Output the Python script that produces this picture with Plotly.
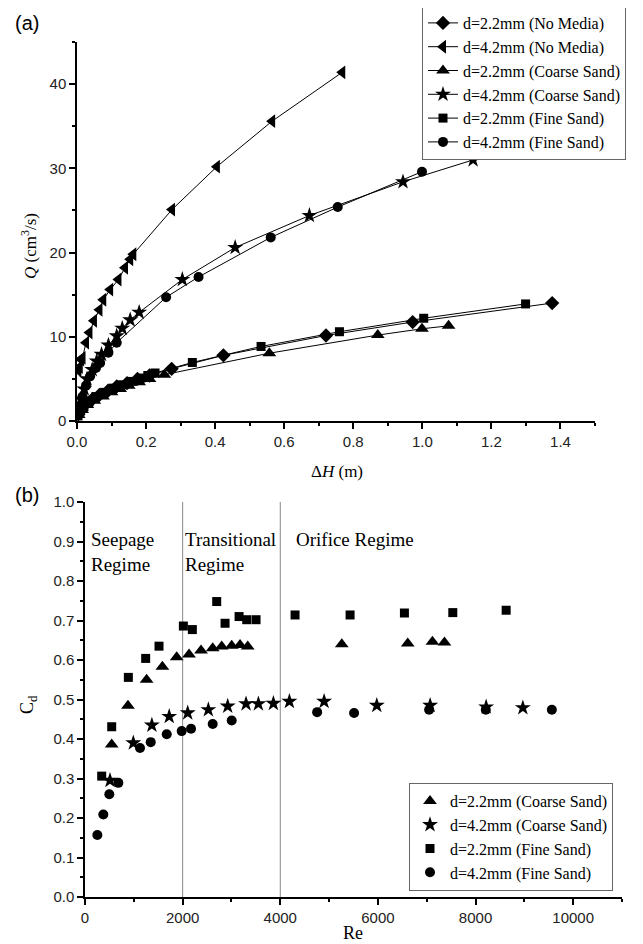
import plotly.graph_objects as go

# The page body has an 8px margin, so the figure is drawn 8px in from the top-left.
OFF = 8
W, H = 643 - OFF, 944 - OFF

# ---------------- Panel (a) data: Q vs dH ----------------
dH_22_nomedia = [0.004, 0.012, 0.025, 0.045, 0.065, 0.09, 0.115, 0.145, 0.175, 0.21, 0.274, 0.424, 0.721, 0.972, 1.376]
Q_22_nomedia = [0.8, 1.4, 2.0, 2.6, 3.1, 3.6, 4.1, 4.5, 5.0, 5.4, 6.2, 7.8, 10.15, 11.75, 14.0]

dH_42_nomedia = [0.004, 0.008, 0.012, 0.016, 0.026, 0.036, 0.049, 0.065, 0.076, 0.096, 0.12, 0.139, 0.154, 0.163, 0.275, 0.405, 0.565, 0.768]
Q_42_nomedia = [6.0, 6.4, 7.3, 7.5, 9.3, 10.5, 11.9, 13.2, 14.4, 15.6, 16.8, 18.2, 19.2, 19.8, 25.1, 30.2, 35.6, 41.4]

dH_22_coarse = [0.005, 0.015, 0.03, 0.05, 0.075, 0.1, 0.125, 0.15, 0.18, 0.21, 0.253, 0.557, 0.871, 0.999, 1.076]
Q_22_coarse = [0.7, 1.3, 1.9, 2.4, 2.9, 3.4, 3.8, 4.2, 4.6, 5.0, 5.5, 8.05, 10.2, 10.95, 11.3]

dH_42_coarse = [0.006, 0.011, 0.021, 0.029, 0.044, 0.057, 0.071, 0.091, 0.115, 0.131, 0.154, 0.18, 0.305, 0.458, 0.673, 0.944, 1.147]
Q_42_coarse = [1.4, 2.6, 3.8, 5.0, 6.1, 7.1, 7.9, 9.0, 10.1, 11.0, 12.0, 12.9, 16.8, 20.6, 24.4, 28.4, 31.0]

dH_22_fine = [0.003, 0.01, 0.02, 0.035, 0.055, 0.08, 0.105, 0.13, 0.16, 0.185, 0.205, 0.226, 0.334, 0.533, 0.76, 1.004, 1.299]
Q_22_fine = [0.6, 1.2, 1.7, 2.3, 2.9, 3.4, 3.9, 4.3, 4.7, 5.1, 5.4, 5.7, 6.95, 8.85, 10.6, 12.2, 13.9]

dH_42_fine = [0.006, 0.016, 0.026, 0.038, 0.055, 0.067, 0.091, 0.115, 0.258, 0.352, 0.561, 0.755, 0.999]
Q_42_fine = [1.7, 2.9, 4.2, 5.3, 6.3, 6.9, 8.1, 9.3, 14.7, 17.1, 21.8, 25.4, 29.6]

# ---------------- Panel (b) data: Cd vs Re ----------------
Re_22_coarse = [547, 880, 1262, 1585, 1878, 2131, 2377, 2616, 2800, 3005, 3176, 3333, 5260, 6611, 7117, 7363]
Cd_22_coarse = [0.386, 0.484, 0.550, 0.583, 0.607, 0.614, 0.624, 0.630, 0.634, 0.636, 0.638, 0.634, 0.640, 0.642, 0.646, 0.644]

Re_42_coarse = [512, 990, 1370, 1725, 2104, 2527, 2923, 3299, 3552, 3859, 4187, 4898, 5977, 7070, 8217, 8969]
Cd_42_coarse = [0.295, 0.390, 0.435, 0.457, 0.466, 0.474, 0.483, 0.489, 0.489, 0.490, 0.495, 0.495, 0.485, 0.485, 0.481, 0.479]

Re_22_fine = [342, 547, 888, 1243, 1516, 2015, 2199, 2698, 2869, 3156, 3313, 3504, 4303, 5430, 6543, 7534, 8627]
Cd_22_fine = [0.306, 0.431, 0.556, 0.604, 0.635, 0.686, 0.677, 0.748, 0.693, 0.710, 0.702, 0.702, 0.714, 0.714, 0.719, 0.720, 0.726]

Re_42_fine = [253, 375, 498, 683, 1127, 1346, 1674, 1981, 2172, 2616, 3005, 4755, 5512, 7049, 8210, 9563]
Cd_42_fine = [0.157, 0.209, 0.260, 0.289, 0.377, 0.392, 0.412, 0.420, 0.426, 0.438, 0.447, 0.468, 0.466, 0.474, 0.474, 0.474]

regime_bounds = [2000, 4000]

SERIF = "Liberation Serif, Times New Roman, serif"
SANS = "Liberation Sans, Arial, sans-serif"

fig = go.Figure()

top_series = [
    ("d=2.2mm (No Media)", dH_22_nomedia, Q_22_nomedia, "diamond", 11),
    ("d=4.2mm (No Media)", dH_42_nomedia, Q_42_nomedia, "triangle-left", 12),
    ("d=2.2mm (Coarse Sand)", dH_22_coarse, Q_22_coarse, "triangle-up", 12),
    ("d=4.2mm (Coarse Sand)", dH_42_coarse, Q_42_coarse, "star", 12),
    ("d=2.2mm (Fine Sand)", dH_22_fine, Q_22_fine, "square", 9),
    ("d=4.2mm (Fine Sand)", dH_42_fine, Q_42_fine, "circle", 10),
]
for name, xs, ys, sym, sz in top_series:
    fig.add_trace(go.Scatter(
        x=xs, y=ys, name=name, mode="lines+markers",
        line=dict(color="black", width=1),
        marker=dict(symbol=sym, size=sz, color="black"),
        xaxis="x", yaxis="y", legend="legend",
    ))

bottom_series = [
    ("d=2.2mm (Coarse Sand)", Re_22_coarse, Cd_22_coarse, "triangle-up", 12),
    ("d=4.2mm (Coarse Sand)", Re_42_coarse, Cd_42_coarse, "star", 12),
    ("d=2.2mm (Fine Sand)", Re_22_fine, Cd_22_fine, "square", 9),
    ("d=4.2mm (Fine Sand)", Re_42_fine, Cd_42_fine, "circle", 10),
]
for name, xs, ys, sym, sz in bottom_series:
    fig.add_trace(go.Scatter(
        x=xs, y=ys, name=name, mode="markers",
        marker=dict(symbol=sym, size=sz, color="black"),
        xaxis="x2", yaxis="y2", legend="legend2",
    ))

for b in regime_bounds:
    fig.add_shape(type="line", xref="x2", yref="y2", x0=b, x1=b, y0=0, y1=1.0,
                  line=dict(color="#888888", width=1), layer="below")

def px_x(p):
    return (p - OFF) / W

def px_y(p):
    return 1 - (p - OFF) / H

axis_common = dict(
    showline=True, linecolor="black", linewidth=1.5, mirror=False,
    ticks="outside", ticklen=6, tickwidth=1.5, tickcolor="black",
    showgrid=False, zeroline=False, automargin=False,
    tickfont=dict(family=SANS, size=15, color="#222"),
)
minor_common = dict(ticks="outside", ticklen=3, tickwidth=1.5, tickcolor="black", showgrid=False)

fig.update_layout(
    template="none",
    width=W, height=H,
    margin=dict(l=0, r=0, t=0, b=0, autoexpand=False),
    paper_bgcolor="white", plot_bgcolor="white",
    showlegend=True,
    xaxis=dict(domain=[px_x(77), px_x(595)], range=[0, 1.5], dtick=0.2, tickformat=".1f",
               anchor="y", minor=dict(dtick=0.1, **minor_common), **axis_common),
    yaxis=dict(domain=[px_y(421), px_y(42)], range=[0, 45], dtick=10, anchor="x",
               minor=dict(dtick=5, **minor_common), **axis_common),
    xaxis2=dict(domain=[px_x(85), px_x(622)], range=[0, 11000], dtick=2000, tickformat="d",
                anchor="y2", minor=dict(dtick=1000, **minor_common), **axis_common),
    yaxis2=dict(domain=[px_y(897), px_y(502)], range=[0, 1.0], dtick=0.1, tickformat=".1f", anchor="x2",
                minor=dict(dtick=0.05, **minor_common), **axis_common),
    legend=dict(x=px_x(422), y=px_y(5), xanchor="left", yanchor="top",
                bordercolor="#666", borderwidth=1, bgcolor="white",
                font=dict(family=SERIF, size=16, color="black"),
                tracegroupgap=0, itemwidth=30),
    legend2=dict(x=px_x(409), y=px_y(783), xanchor="left", yanchor="top",
                 bordercolor="#666", borderwidth=1, bgcolor="white",
                 font=dict(family=SERIF, size=16, color="black"),
                 tracegroupgap=0, itemwidth=30),
)

ann = [
    dict(text="(a)", x=px_x(13), y=px_y(23), xanchor="left", yanchor="middle",
         font=dict(family=SANS, size=20, color="black")),
    dict(text="(b)", x=px_x(13), y=px_y(495), xanchor="left", yanchor="middle",
         font=dict(family=SANS, size=20, color="black")),
    dict(text="Δ<i>H</i> (m)", x=px_x(337), y=px_y(471), xanchor="center", yanchor="middle",
         font=dict(family=SERIF, size=17, color="black")),
    dict(text="<i>Q</i> (cm<sup>3</sup>/s)", x=px_x(29), y=px_y(246), xanchor="center", yanchor="middle",
         textangle=-90, font=dict(family=SERIF, size=17, color="black")),
    dict(text="Re", x=px_x(353), y=px_y(933), xanchor="center", yanchor="middle",
         font=dict(family=SERIF, size=18, color="black")),
    dict(text="C<sub>d</sub>", x=px_x(28), y=px_y(705), xanchor="center", yanchor="middle",
         textangle=-90, font=dict(family=SERIF, size=18, color="black")),
    dict(text="Seepage<br>Regime", x=px_x(89), y=px_y(527), xanchor="left", yanchor="top",
         align="left", font=dict(family=SERIF, size=19, color="black")),
    dict(text="Transitional<br>Regime", x=px_x(183), y=px_y(527), xanchor="left", yanchor="top",
         align="left", font=dict(family=SERIF, size=19, color="black")),
    dict(text="Orifice Regime", x=px_x(294), y=px_y(527), xanchor="left", yanchor="top",
         align="left", font=dict(family=SERIF, size=19, color="black")),
]
for a in ann:
    a.update(xref="paper", yref="paper", showarrow=False)
fig.update_layout(annotations=ann)

fig.write_html("out.html")
